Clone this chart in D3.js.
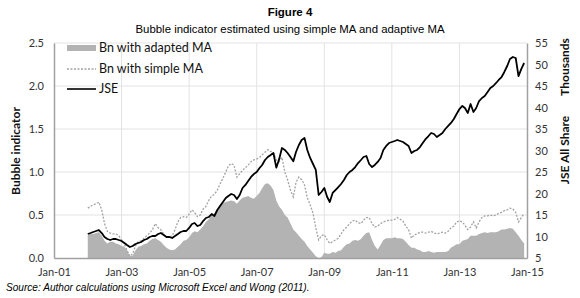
<!DOCTYPE html>
<html>
<head>
<meta charset="utf-8">
<script src="https://cdn.jsdelivr.net/npm/d3@7"></script>
<style>
  body { margin: 0; background: #fff; }
  .tick text { font-family: Lato, "Open Sans", sans-serif; font-size: 11px; fill: #333; }
  .axis-title { font-family: Lato, "Open Sans", sans-serif; font-size: 12px; font-weight: bold; fill: #111; }
  .legend text { font-family: Lato, "Open Sans", sans-serif; font-size: 12.5px; fill: #111; }
</style>
</head>
<body>
<div id="chart"></div>
<script>
// monthly observations, Jan 2002 .. Dec 2014
var startMonth = "2002-01";

var adaptedMA = [
  0.27,0.28,0.28,0.29,0.30,0.26,0.20,0.17,0.19,0.19,0.17,0.16,
  0.14,0.13,0.09,0.02,0.03,0.09,0.13,0.14,0.16,0.17,0.20,0.22,
  0.23,0.21,0.19,0.15,0.12,0.10,0.09,0.10,0.13,0.16,0.20,0.21,
  0.24,0.29,0.31,0.30,0.33,0.37,0.42,0.45,0.50,0.52,0.56,0.62,
  0.64,0.65,0.66,0.67,0.66,0.63,0.67,0.70,0.71,0.72,0.70,0.69,
  0.72,0.76,0.81,0.86,0.87,0.84,0.79,0.67,0.60,0.56,0.50,0.47,
  0.40,0.33,0.30,0.26,0.22,0.19,0.14,0.10,0.06,0.02,0.00,0.01,
  0.06,0.05,0.05,0.07,0.06,0.08,0.09,0.13,0.16,0.17,0.20,0.21,
  0.20,0.22,0.26,0.29,0.30,0.21,0.14,0.10,0.15,0.21,0.23,0.23,
  0.23,0.24,0.23,0.23,0.22,0.19,0.15,0.12,0.12,0.10,0.09,0.07,
  0.07,0.08,0.07,0.06,0.07,0.07,0.07,0.07,0.08,0.12,0.14,0.16,
  0.16,0.20,0.21,0.22,0.26,0.26,0.26,0.28,0.29,0.30,0.29,0.30,
  0.30,0.30,0.31,0.33,0.33,0.34,0.35,0.34,0.30,0.26,0.21,0.17
];

var simpleMA = [
  0.58,0.60,0.62,0.63,0.65,0.56,0.40,0.31,0.29,0.28,0.28,0.26,
  0.21,0.16,0.09,0.02,0.05,0.14,0.19,0.20,0.23,0.26,0.29,0.33,
  0.40,0.35,0.33,0.28,0.24,0.24,0.26,0.33,0.42,0.47,0.48,0.47,
  0.51,0.56,0.53,0.48,0.50,0.57,0.60,0.67,0.72,0.74,0.79,0.86,
  0.93,1.00,1.07,1.10,1.08,0.94,0.98,1.02,1.05,1.08,1.12,1.14,
  1.15,1.17,1.20,1.23,1.26,1.24,1.22,1.14,1.12,1.17,1.00,0.91,
  0.79,0.71,0.88,0.94,0.91,0.85,0.70,0.62,0.52,0.35,0.21,0.26,
  0.27,0.21,0.17,0.19,0.21,0.23,0.28,0.33,0.36,0.40,0.43,0.44,
  0.41,0.40,0.44,0.47,0.47,0.40,0.36,0.37,0.40,0.42,0.43,0.44,
  0.44,0.45,0.47,0.45,0.43,0.37,0.33,0.23,0.27,0.28,0.30,0.30,
  0.29,0.30,0.31,0.29,0.28,0.29,0.30,0.29,0.31,0.35,0.37,0.42,
  0.43,0.42,0.38,0.33,0.36,0.42,0.35,0.42,0.47,0.49,0.49,0.50,
  0.49,0.50,0.52,0.53,0.55,0.56,0.58,0.57,0.53,0.42,0.47,0.52
];

// JSE All Share, thousands
var jse = [
  10.58,10.81,11.05,11.28,11.51,10.81,9.88,9.42,9.19,9.42,9.42,9.19,
  8.95,8.49,8.02,7.56,7.79,8.26,8.49,8.72,9.19,9.42,9.88,10.12,
  10.12,10.58,10.81,10.35,9.88,9.88,9.65,10.12,10.58,11.05,11.28,11.28,
  11.98,12.91,13.14,12.44,12.67,13.60,14.30,14.53,15.23,14.77,16.16,17.09,
  18.02,18.95,19.42,19.88,19.65,18.72,19.65,21.28,21.98,22.91,23.84,24.53,
  25.00,25.93,26.63,27.79,28.49,28.95,29.42,26.00,28.00,30.58,30.12,29.42,
  28.50,27.50,29.65,31.28,32.44,32.90,30.12,28.26,26.86,25.47,19.65,20.35,
  21.28,19.19,18.02,20.12,20.81,21.51,22.21,23.14,24.30,25.00,25.47,26.16,
  27.09,27.79,28.49,28.72,26.86,26.16,26.63,27.33,28.26,30.12,31.05,31.74,
  31.98,32.21,32.44,32.21,31.98,31.51,31.05,29.42,29.88,30.12,30.81,31.74,
  32.67,33.37,34.07,33.84,33.14,33.60,34.07,35.00,35.70,36.40,37.33,38.49,
  39.65,40.35,39.88,38.72,40.81,38.95,39.88,41.51,42.21,42.67,43.60,44.53,
  45.00,45.70,46.40,47.09,48.26,49.65,51.28,51.74,51.51,47.30,49.00,50.35
];

var xTicks = ["2001-01","2003-01","2005-01","2007-01","2009-01","2011-01","2013-01","2015-01"];
var leftTicks = [0, 0.5, 1.0, 1.5, 2.0, 2.5];
var rightTicks = [5, 10, 15, 20, 25, 30, 35, 40, 45, 50, 55];
var legendLabels = ["Bn with adapted MA", "Bn with simple MA", "JSE"];

var W = 580, H = 298;
var margin = { top: 43, right: 53, bottom: 40, left: 54 },
  width = W - margin.left - margin.right,
  height = H - margin.top - margin.bottom;

var parseMonth = d3.timeParse("%Y-%m");
var start = parseMonth(startMonth);
var data = jse.map(function (v, i) {
  return { date: d3.timeMonth.offset(start, i), jse: v, simple: simpleMA[i], adapted: adaptedMA[i] };
});

var svg = d3.select("#chart").append("svg")
  .attr("width", W).attr("height", H)
  .style("font-family", "Arial, 'Liberation Sans', sans-serif");

// titles
svg.append("text").attr("x", 290).attr("y", 16).attr("text-anchor", "middle")
  .style("font-size", "11.5px").style("font-weight", "bold").text("Figure 4");
svg.append("text").attr("x", 290).attr("y", 33).attr("text-anchor", "middle")
  .style("font-size", "11.4px").text("Bubble indicator estimated using simple MA and adaptive MA");
svg.append("text").attr("x", 6).attr("y", 291)
  .style("font-size", "10.1px").style("font-style", "italic")
  .text("Source: Author calculations using Microsoft Excel and Wong (2011).");

var g = svg.append("g").attr("transform", "translate(" + margin.left + "," + margin.top + ")");

var x = d3.scaleTime()
  .domain([parseMonth(xTicks[0]), parseMonth(xTicks[xTicks.length - 1])])
  .range([0, width]);
var y = d3.scaleLinear().domain([0, 2.5]).range([height, 0]);
var y2 = d3.scaleLinear().domain([5, 55]).range([height, 0]);

// grid
g.append("g").selectAll("line.h").data(leftTicks.slice(1)).enter().append("line")
  .attr("x1", 0).attr("x2", width)
  .attr("y1", function (d) { return y(d); }).attr("y2", function (d) { return y(d); })
  .attr("stroke", "#e3e3e3").attr("stroke-width", 1);
g.append("g").selectAll("line.v").data(xTicks.slice(1, -1)).enter().append("line")
  .attr("y1", 0).attr("y2", height)
  .attr("x1", function (d) { return x(parseMonth(d)); }).attr("x2", function (d) { return x(parseMonth(d)); })
  .attr("stroke", "#e3e3e3").attr("stroke-width", 1);

// adapted MA area
var area = d3.area()
  .x(function (d) { return x(d.date); })
  .y0(y(0))
  .y1(function (d) { return y(d.adapted); });
g.append("path").datum(data).attr("d", area).attr("fill", "#b3b3b3");

// simple MA
var simpleLine = d3.line()
  .x(function (d) { return x(d.date); })
  .y(function (d) { return y(d.simple); });
g.append("path").datum(data).attr("d", simpleLine)
  .attr("fill", "none").attr("stroke", "#a3a3a3").attr("stroke-width", 1.3)
  .attr("stroke-dasharray", "2,1.5");

// JSE
var jseLine = d3.line()
  .x(function (d) { return x(d.date); })
  .y(function (d) { return y2(d.jse); });
g.append("path").datum(data).attr("d", jseLine)
  .attr("fill", "none").attr("stroke", "#000").attr("stroke-width", 1.8)
  .attr("stroke-linejoin", "round");

// axes
var xAxis = g.append("g").attr("transform", "translate(0," + height + ")")
  .call(d3.axisBottom(x).tickValues(xTicks.map(parseMonth)).tickFormat(d3.timeFormat("%b-%y")).tickSize(0).tickPadding(10));
var yAxis = g.append("g")
  .call(d3.axisLeft(y).tickValues(leftTicks).tickFormat(d3.format(".1f")).tickSize(0).tickPadding(10));
var y2Axis = g.append("g").attr("transform", "translate(" + width + ",0)")
  .call(d3.axisRight(y2).tickValues(rightTicks).tickFormat(d3.format("d")).tickSize(0).tickPadding(8));
[xAxis, yAxis, y2Axis].forEach(function (a) {
  a.select(".domain").attr("stroke", "#a0a0a0").attr("stroke-width", 1.5);
});

// axis titles
g.append("text").attr("class", "axis-title")
  .attr("transform", "translate(" + (16 - margin.left) + "," + (151 - margin.top) + ") rotate(-90)")
  .attr("text-anchor", "middle").attr("dy", "0.35em").text("Bubble indicator");
g.append("text").attr("class", "axis-title")
  .attr("transform", "translate(" + (565 - margin.left) + "," + (67 - margin.top) + ") rotate(-90)")
  .attr("text-anchor", "middle").attr("dy", "0.35em").text("Thousands");
g.append("text").attr("class", "axis-title")
  .attr("transform", "translate(" + (565 - margin.left) + "," + (150 - margin.top) + ") rotate(-90)")
  .attr("text-anchor", "middle").attr("dy", "0.35em").text("JSE All Share");

// legend
var legend = svg.append("g").attr("class", "legend");
var ly = [48, 69, 89];
legend.append("rect").attr("x", 67).attr("y", ly[0] - 3).attr("width", 29).attr("height", 6).attr("fill", "#b3b3b3");
legend.append("line").attr("x1", 67).attr("x2", 96).attr("y1", ly[1]).attr("y2", ly[1])
  .attr("stroke", "#a3a3a3").attr("stroke-width", 1.3).attr("stroke-dasharray", "2,1.5");
legend.append("line").attr("x1", 67).attr("x2", 96).attr("y1", ly[2]).attr("y2", ly[2])
  .attr("stroke", "#000").attr("stroke-width", 1.6);
legend.selectAll("text").data(legendLabels).enter().append("text")
  .attr("x", 99).attr("y", function (d, i) { return ly[i]; }).attr("dy", "0.35em")
  .text(function (d) { return d; });
</script>
</body>
</html>
